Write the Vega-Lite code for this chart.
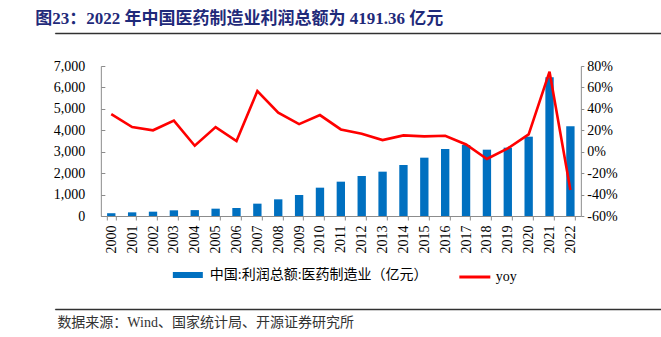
{
  "$schema": "https://vega.github.io/schema/vega-lite/v6.json",
  "background": "white",
  "autosize": {"type": "pad"},
  "padding": {"left": 33, "top": 9, "right": 10, "bottom": 5},
  "config": {
    "font": "Liberation Serif, Noto Sans CJK SC",
    "view": {"stroke": null},
    "axis": {
      "labelFont": "Liberation Serif, Noto Sans CJK SC",
      "labelFontSize": 14,
      "labelColor": "#000",
      "domainColor": "#8c8c8c",
      "tickColor": "#8c8c8c",
      "grid": false
    },
    "legend": {
      "labelFont": "Liberation Serif, Noto Sans CJK SC",
      "labelFontSize": 14,
      "labelColor": "#000",
      "labelLimit": 400,
      "padding": 0
    }
  },
  "title": {
    "text": "图23：2022 年中国医药制造业利润总额为 4191.36 亿元",
    "anchor": "start",
    "fontSize": 17,
    "fontWeight": "bold",
    "color": "#1F2A7A",
    "offset": 3,
    "dx": 2
  },
  "spacing": 22,
  "center": true,
  "resolve": {"scale": {"fill": "independent", "stroke": "independent"}, "legend": {"fill": "independent", "stroke": "independent"}},
  "vconcat": [
    {
      "width": 607,
      "height": 1,
      "view": {"fill": "#333333", "stroke": "#333333", "strokeWidth": 0.5},
      "data": {"values": [{"k": 0.5}]},
      "mark": {"type": "point", "opacity": 0},
      "encoding": {
        "x": {"field": "k", "type": "quantitative", "scale": {"domain": [0, 1]}, "axis": null}
      }
    },
    {
      "width": 480,
      "height": 150,
      "data": {
        "values": [
          {"year": "2000", "profit": 130, "yoy": 0.35},
          {"year": "2001", "profit": 171, "yoy": 0.23},
          {"year": "2002", "profit": 202, "yoy": 0.20},
          {"year": "2003", "profit": 265, "yoy": 0.29},
          {"year": "2004", "profit": 275, "yoy": 0.056},
          {"year": "2005", "profit": 342, "yoy": 0.23},
          {"year": "2006", "profit": 373, "yoy": 0.10},
          {"year": "2007", "profit": 576, "yoy": 0.566},
          {"year": "2008", "profit": 778, "yoy": 0.364},
          {"year": "2009", "profit": 980, "yoy": 0.258},
          {"year": "2010", "profit": 1322, "yoy": 0.342},
          {"year": "2011", "profit": 1602, "yoy": 0.208},
          {"year": "2012", "profit": 1867, "yoy": 0.168},
          {"year": "2013", "profit": 2069, "yoy": 0.109},
          {"year": "2014", "profit": 2380, "yoy": 0.152},
          {"year": "2015", "profit": 2722, "yoy": 0.143},
          {"year": "2016", "profit": 3127, "yoy": 0.149},
          {"year": "2017", "profit": 3313, "yoy": 0.068},
          {"year": "2018", "profit": 3095, "yoy": -0.068},
          {"year": "2019", "profit": 3189, "yoy": 0.031},
          {"year": "2020", "profit": 3702, "yoy": 0.162},
          {"year": "2021", "profit": 6472, "yoy": 0.747},
          {"year": "2022", "profit": 4191.36, "yoy": -0.358}
        ]
      },
      "encoding": {
        "x": {
          "field": "year",
          "type": "ordinal",
          "scale": {"paddingInner": 0.6, "paddingOuter": 0.3},
          "axis": {"labelAngle": -90, "tickBand": "extent", "tickSize": 4, "labelPadding": 5, "title": null}
        }
      },
      "layer": [
        {
          "mark": {"type": "bar"},
          "encoding": {
            "y": {
              "field": "profit",
              "type": "quantitative",
              "scale": {"domain": [0, 7000], "nice": false},
              "axis": {"values": [0, 1000, 2000, 3000, 4000, 5000, 6000, 7000], "format": ",.0f", "tickSize": -4, "labelPadding": 20, "title": "\u00a0", "titleFontSize": 10, "titlePadding": 10, "titleColor": "#ffffff"}
            },
            "fill": {
              "datum": "中国:利润总额:医药制造业（亿元）",
              "type": "nominal",
              "scale": {"range": ["#0070C0"]},
              "legend": {"orient": "none", "legendX": 72, "legendY": 194, "title": null, "symbolType": "M-1,-0.2H1V0.2H-1Z", "symbolSize": 900, "symbolStrokeWidth": 0, "labelOffset": 7}
            }
          }
        },
        {
          "mark": {"type": "line", "strokeWidth": 2.6},
          "encoding": {
            "y": {
              "field": "yoy",
              "type": "quantitative",
              "scale": {"domain": [-0.6, 0.8], "nice": false},
              "axis": {"orient": "right", "values": [-0.6, -0.4, -0.2, 0, 0.2, 0.4, 0.6, 0.8], "labelExpr": "replace(format(datum.value, '.0%'), '−', '-')", "tickSize": 3, "labelPadding": 3, "title": null}
            },
            "stroke": {
              "datum": "yoy",
              "type": "nominal",
              "scale": {"range": ["#FF0000"]},
              "legend": {"orient": "none", "legendX": 357, "legendY": 194, "title": null, "symbolType": "stroke", "symbolSize": 961, "symbolStrokeWidth": 3, "labelOffset": 4}
            }
          }
        }
      ],
      "resolve": {"scale": {"y": "independent"}}
    },
    {
      "width": 607,
      "height": 1,
      "view": {"fill": "#333333", "stroke": "#333333", "strokeWidth": 0.5},
      "title": {
        "text": "数据来源：Wind、国家统计局、开源证券研究所",
        "orient": "bottom",
        "anchor": "start",
        "fontSize": 14,
        "fontWeight": "normal",
        "color": "#333333",
        "offset": 4,
        "dx": 2
      },
      "data": {"values": [{"k": 0.5}]},
      "mark": {"type": "point", "opacity": 0},
      "encoding": {
        "x": {"field": "k", "type": "quantitative", "scale": {"domain": [0, 1]}, "axis": null}
      }
    }
  ]
}
